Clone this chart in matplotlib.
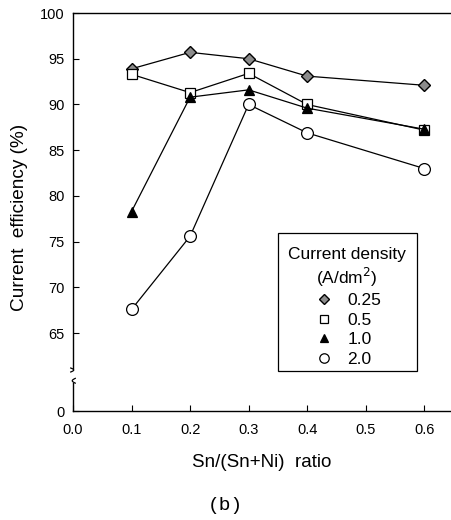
import numpy as np
import matplotlib
matplotlib.use('Agg')
import matplotlib.pyplot as plt
from matplotlib.lines import Line2D
from matplotlib.patches import Rectangle

plt.rcParams['font.family'] = ['Liberation Sans', 'DejaVu Sans']

# Sn/(Sn+Ni) ratio and current efficiency (%) per current density
ratio = [0.1, 0.2, 0.3, 0.4, 0.6]
eff_025 = [93.9, 95.7, 95.0, 93.1, 92.1]
eff_05 = [93.3, 91.3, 93.4, 90.0, 87.2]
eff_10 = [78.3, 90.8, 91.6, 89.6, 87.3]
eff_20 = [67.6, 75.6, 90.0, 86.9, 83.0]
densities = ['0.25', '0.5', '1.0', '2.0']
xticks = [0.0, 0.1, 0.2, 0.3, 0.4, 0.5, 0.6]
yticks = [0, 65, 70, 75, 80, 85, 90, 95, 100]

# compress everything below the axis break
BRK = 61.0
LOW = 56.5

def fwd(y):
    y = np.asarray(y, dtype=float)
    return np.where(y >= BRK, y, LOW + y * (BRK - LOW) / BRK)

def inv(u):
    u = np.asarray(u, dtype=float)
    return np.where(u >= BRK, u, (u - LOW) * BRK / (BRK - LOW))

fig = plt.figure(figsize=(4.51, 5.20), dpi=100)
ax = fig.add_axes([73/451, 1 - 411/520, 377/451, 398/520])
ax.set_yscale('function', functions=(fwd, inv))

styles = [
    (eff_025, dict(marker='D', ms=6.5, mfc='#8c8c8c', mec='black', mew=1.0)),
    (eff_05, dict(marker='s', ms=7, mfc='white', mec='black', mew=0.9)),
    (eff_10, dict(marker='^', ms=7.5, mfc='black', mec='black', mew=0.9)),
    (eff_20, dict(marker='o', ms=8.5, mfc='white', mec='black', mew=0.9)),
]
handles = []
for (vals, st), lab in zip(styles, densities):
    ax.plot(ratio, vals, color='black', lw=0.9, zorder=3, **st)
    handles.append(Line2D([], [], ls='none', label=lab, **st))

ax.set_xlim(0, 0.644)
ax.set_ylim(0, 100)
ax.set_xticks(xticks)
ax.set_xticklabels([f'{t:.1f}' for t in xticks])
ax.set_yticks(yticks)
ax.yaxis.set_minor_locator(plt.NullLocator())
ax.tick_params(direction='in', length=4, width=0.8, labelsize=10.5)
ax.tick_params(axis='x', pad=9)
ax.tick_params(axis='y', pad=6)

ax.spines['right'].set_visible(False)
ax.spines['left'].set_visible(False)
for s in ('top', 'bottom'):
    ax.spines[s].set_linewidth(1.0)

# left spine drawn in two pieces with a break
ytr = ax.transAxes
ax.plot([0, 0], [0.108, 1.0], color='black', lw=1.0, transform=ytr, clip_on=False)
ax.plot([0, 0], [0.0, 0.070], color='black', lw=1.0, transform=ytr, clip_on=False)
t = np.linspace(0, 1, 20)
ax.plot(-0.006 + 0.008 * np.sin(np.pi * t), 0.108 - 0.010 * t, color='black', lw=0.9,
        transform=ytr, clip_on=False)
ax.plot(0.006 - 0.008 * np.sin(np.pi * t), 0.070 + 0.012 * t, color='black', lw=0.9,
        transform=ytr, clip_on=False)

ax.set_xlabel('Sn/(Sn+Ni)  ratio', fontsize=13.5, labelpad=12)
ax.set_ylabel('Current  efficiency (%)', fontsize=13.7)
ax.yaxis.set_label_coords(-0.12, 0.487)

# legend box
ax.add_patch(Rectangle((0.544, 0.1005), 0.368, 0.347, transform=ax.transAxes,
                       fill=True, facecolor='white', edgecolor='black', lw=0.9, zorder=4))
leg = ax.legend(handles=handles, title='Current density\n(A/dm$^2$)', loc='upper left',
                bbox_to_anchor=(0.537, 0.442), frameon=False, fontsize=12.5,
                title_fontsize=12.5, handlelength=4.14, handletextpad=-0.69,
                labelspacing=0.25, borderpad=0.2, markerscale=0.8, alignment='left')
leg.get_title().set_multialignment('center')
leg.set_zorder(5)

fig.text(0.5, 1 - 506/520, '(b)', ha='center', va='center', fontsize=14,
         family=['Liberation Mono', 'DejaVu Sans Mono'])

fig.savefig('out.png', dpi=100)
plt.close(fig)
